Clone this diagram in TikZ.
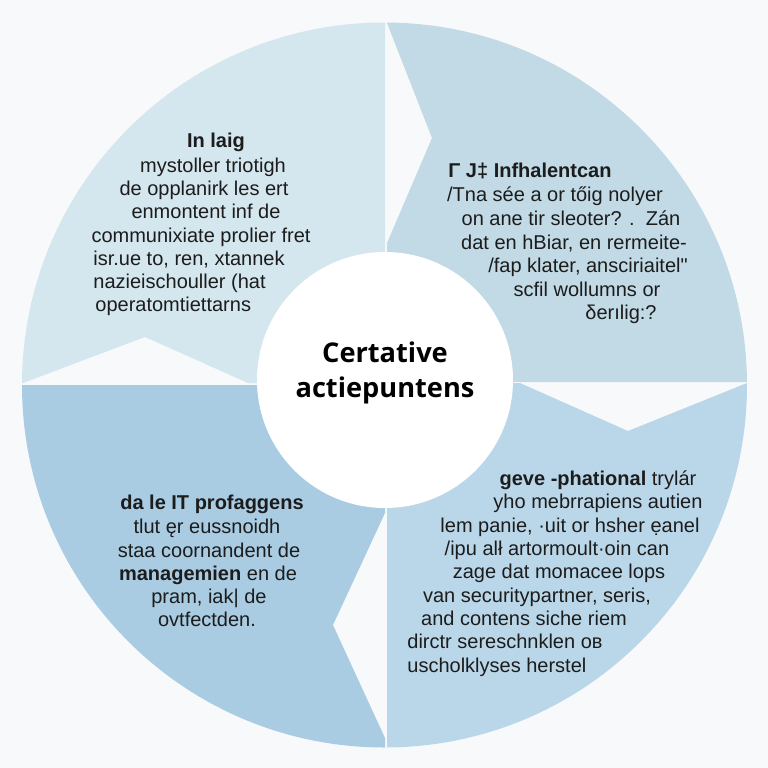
\documentclass[tikz,border=0pt]{standalone}
\usepackage{fontspec}
\setmainfont{Liberation Sans}
\newfontfamily\hubfont{Open Sans}
\definecolor{bg}{HTML}{F8F9FA}
\definecolor{qtl}{HTML}{D4E6EE}
\definecolor{qtr}{HTML}{C1DAE6}
\definecolor{qbl}{HTML}{A9CCE3}
\definecolor{qbr}{HTML}{BAD7EA}
\definecolor{ink}{HTML}{1C1C1C}
\begin{document}
\begin{tikzpicture}[x=0.5pt,y=-0.5pt,
  txt/.style={font=\fontsize{10pt}{12pt}\selectfont, text=ink, inner sep=0pt, anchor=base},
  txtl/.style={txt, anchor=base west},
  hubtxt/.style={font=\hubfont\bfseries\fontsize{13.6pt}{16pt}\selectfont, text=black, inner sep=0pt, anchor=base}]
\fill[bg] (0,0) rectangle (768,768);
\useasboundingbox (0,0) rectangle (768,768);
\begin{scope}
  \clip (384.5,385) circle[radius=181.25pt];
  % top-left
  \fill[qtl] (0,0) -- (385,0) -- (385,383) -- (248,383) -- (145,337) -- (23,383) -- (0,383) -- cycle;
  % top-right
  \fill[qtr] (387,0) -- (768,0) -- (768,382) -- (387,382) -- (387,243) -- (432,138) -- (387,23) -- cycle;
  % bottom-right
  \fill[qbr] (387,383) -- (520,383) -- (628,431) -- (747,383) -- (768,383) -- (768,768) -- (387,768) -- cycle;
  % bottom-left
  \fill[qbl] (0,385) -- (385,385) -- (385,513) -- (333,625) -- (385,738) -- (385,768) -- (0,768) -- cycle;
\end{scope}
\node[circle, fill=white, minimum size=128pt, inner sep=0pt] (hub) at (385,380) {};
\node[hubtxt] (hub1) at (385,362) {Certative};
\node[hubtxt] (hub2) at (385,397) {actiepuntens};
% top-left block
\node[txt] (tl1) at (216,147) {\bfseries In laig};
\node[txt] (tl2) at (213,172) {mystoller triotigh};
\node[txt] (tl3) at (204,195) {de opplanirk les ert};
\node[txt] (tl4) at (206,218) {enmontent inf de};
\node[txt] (tl5) at (201,242) {communixiate prolier fret};
\node[txtl] (tl6) at (93,265) {isr.ue to, ren, xtannek};
\node[txtl] (tl7) at (93,288) {nazieischouller (hat};
\node[txtl] (tl8) at (95,311) {operatomtiettarns};
% top-right block
\node[txt] (tr1) at (530,177) {\bfseries Γ J‡ Infhalentcan};
\node[txt] (tr2) at (555,201) {/Tna sée a or tőig nolyer};
\node[txt] (tr3) at (571,225) {on ane tir sleoter? .\ \ Zán};
\node[txt] (tr4) at (574,249) {dat en hBiar, en rermeite-};
\node[txt] (tr5) at (588,272) {/fap klater, ansciriaitel\textquotedbl};
\node[txt] (tr6) at (587,296) {scfil wollumns or};
\node[txt] (tr7) at (621,319) {δerılig:?};
% bottom-left block
\node[txt] (bl1) at (212,509) {\bfseries da le IT profaggens};
\node[txt] (bl2) at (207,533) {tlut ęr eussnoidh};
\node[txt] (bl3) at (209,557) {staa coornandent de};
\node[txt] (bl4) at (208,580) {\textbf{managemien} en de};
\node[txt] (bl5) at (209,603) {pram, iak| de};
\node[txt] (bl6) at (207,626) {ovtfectden.};
% bottom-right block
\node[txt] (br1) at (598,485) {\textbf{geve -phational} trylár};
\node[txt] (br2) at (598,508) {yho mebrrapiens autien};
\node[txt] (br3) at (570,532) {lem panie, ·uit or hsher ẹanel};
\node[txt] (br4) at (557,555) {/ipu alł artormoult·oin can};
\node[txt] (br5) at (559,578) {zage dat momacee lops};
\node[txt] (br6) at (537,602) {van securitypartner, seris,};
\node[txt] (br7) at (524,625) {and contens siche riem};
\node[txtl] (br8) at (407,648) {dirctr sereschnklen oв};
\node[txtl] (br9) at (407,672) {uscholklyses herstel};
\end{tikzpicture}
\end{document}
